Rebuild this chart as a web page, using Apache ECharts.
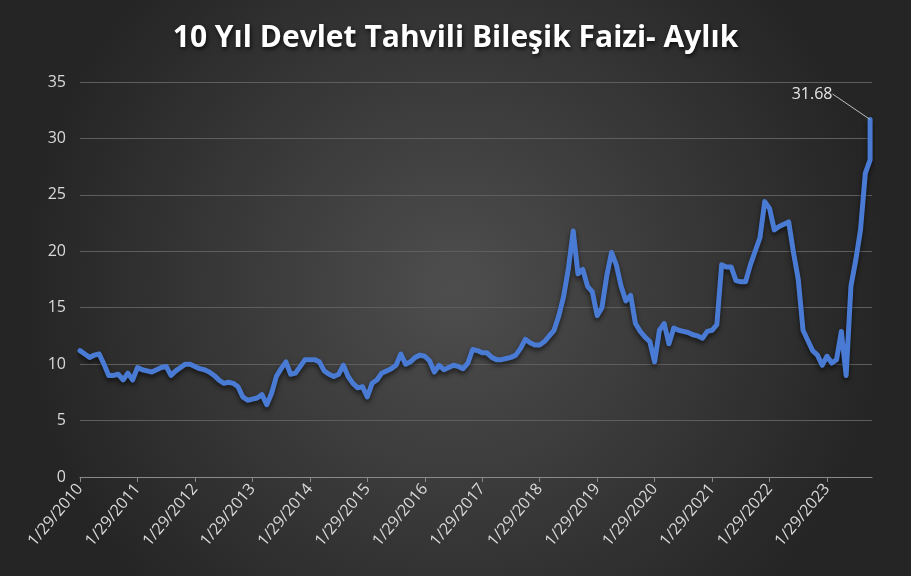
<!DOCTYPE html>
<html>
<head>
<meta charset="utf-8">
<script src="https://cdn.jsdelivr.net/npm/echarts@6/dist/echarts.min.js"></script>
<style>html,body{margin:0;padding:0;background:#2a2a2a;}#c{width:911px;height:576px;}</style>
</head>
<body>
<div id="c"></div>
<script>
// Monthly values, Jan 2010 .. Oct 2023 (one per month)
const monthlyValues = [
  11.2, 10.9, 10.6, 10.8, 10.9, 10.0, 9.0, 9.0, 9.1, 8.6, 9.2, 8.6,      // 2010
  9.7, 9.5, 9.4, 9.3, 9.5, 9.7, 9.8, 9.0, 9.4, 9.7, 10.0, 10.0,          // 2011
  9.8, 9.6, 9.5, 9.3, 9.0, 8.6, 8.3, 8.4, 8.3, 8.0, 7.1, 6.8,            // 2012
  6.9, 7.0, 7.3, 6.4, 7.4, 8.9, 9.6, 10.2, 9.1, 9.2, 9.8, 10.4,          // 2013
  10.4, 10.4, 10.2, 9.4, 9.1, 8.9, 9.1, 9.9, 8.9, 8.3, 7.9, 8.0,         // 2014
  7.1, 8.3, 8.6, 9.2, 9.4, 9.6, 9.9, 10.9, 10.0, 10.2, 10.6, 10.8,       // 2015
  10.7, 10.3, 9.3, 9.9, 9.5, 9.7, 9.9, 9.8, 9.6, 10.1, 11.3, 11.2,       // 2016
  11.0, 11.0, 10.6, 10.4, 10.4, 10.5, 10.6, 10.8, 11.4, 12.2, 11.9, 11.7, // 2017
  11.7, 12.0, 12.5, 13.0, 14.3, 16.0, 18.5, 21.8, 18.0, 18.4, 16.9, 16.4, // 2018
  14.3, 15.0, 17.8, 19.9, 18.8, 16.9, 15.6, 16.1, 13.6, 12.9, 12.4, 12.0, // 2019
  10.2, 13.0, 13.6, 11.8, 13.2, 13.0, 12.9, 12.8, 12.6, 12.5, 12.3, 12.9, // 2020
  13.0, 13.5, 18.8, 18.6, 18.6, 17.4, 17.3, 17.3, 18.8, 20.0, 21.2, 24.4, // 2021
  23.8, 21.9, 22.2, 22.4, 22.6, 19.9, 17.5, 13.0, 12.1, 11.2, 10.8, 9.9,  // 2022
  10.7, 10.1, 10.4, 12.9, 9.0, 16.9, 19.2, 21.9, 26.9, 28.1               // 2023
];
// Latest reading, plotted in the same (last) month
const latestValue = 31.68;
const tickLabels = ['1/29/2010','1/29/2011','1/29/2012','1/29/2013','1/29/2014','1/29/2015','1/29/2016',
  '1/29/2017','1/29/2018','1/29/2019','1/29/2020','1/29/2021','1/29/2022','1/29/2023'];
const titleText = '10 Yıl Devlet Tahvili Bileşik Faizi- Aylık';

const lastIdx = monthlyValues.length - 1;
const data = monthlyValues.map((v, i) => [i, v]);
data.push({
  value: [lastIdx, latestValue],
  label: { show: true, formatter: latestValue.toFixed(2) },
  labelLine: { show: true }
});
const tickValues = tickLabels.map((t, i) => i * 12);

const chart = echarts.init(document.getElementById('c'), null, { renderer: 'canvas' });
chart.setOption({
  backgroundColor: {
    type: 'radial', x: 0.5, y: 0.5, r: 0.75,
    colorStops: [{ offset: 0, color: '#4e4e4e' }, { offset: 1, color: '#252525' }]
  },
  animation: false,
  title: {
    text: titleText, left: 'center', top: 18,
    textStyle: {
      color: '#ffffff', fontFamily: 'Open Sans', fontWeight: 'bold', fontSize: 30,
      textShadowColor: 'rgba(0,0,0,0.75)', textShadowBlur: 4, textShadowOffsetX: 1, textShadowOffsetY: 2
    }
  },
  grid: { left: 80, right: 39, top: 82, bottom: 99, containLabel: false },
  xAxis: {
    type: 'value', min: 0, max: lastIdx + 0.4,
    axisLine: { show: true, lineStyle: { color: '#8a8a8a', width: 1 } },
    axisTick: { show: true, customValues: tickValues, length: 5, lineStyle: { color: '#8a8a8a' } },
    axisLabel: {
      customValues: tickValues, rotate: 50, margin: 9, color: '#d9d9d9', fontSize: 16, fontFamily: 'Open Sans',
      formatter: (v) => tickLabels[Math.round(v / 12)] || ''
    },
    splitLine: { show: false }
  },
  yAxis: {
    type: 'value', min: 0, max: 35, interval: 5,
    axisLine: { show: false }, axisTick: { show: false },
    axisLabel: { color: '#d9d9d9', fontSize: 16, fontFamily: 'Open Sans', margin: 14 },
    splitLine: { lineStyle: { color: '#5e5e5e', width: 1 } }
  },
  series: [{
    type: 'line', data: data, showSymbol: true, showAllSymbol: true, symbol: 'circle', symbolSize: 1,
    itemStyle: { color: 'rgba(0,0,0,0)', borderWidth: 0 },
    lineStyle: { color: '#4a7bd4', width: 5, shadowColor: 'rgba(0,0,0,0.6)', shadowBlur: 5, shadowOffsetY: 3, cap: 'round', join: 'round' },
    label: { show: false, color: '#e6e6e6', fontSize: 16, fontFamily: 'Open Sans', position: 'top' },
    labelLine: { lineStyle: { color: '#bfbfbf', width: 1 } },
    labelLayout: { dx: -58, dy: -12 }
  }]
});
</script>
</body>
</html>
